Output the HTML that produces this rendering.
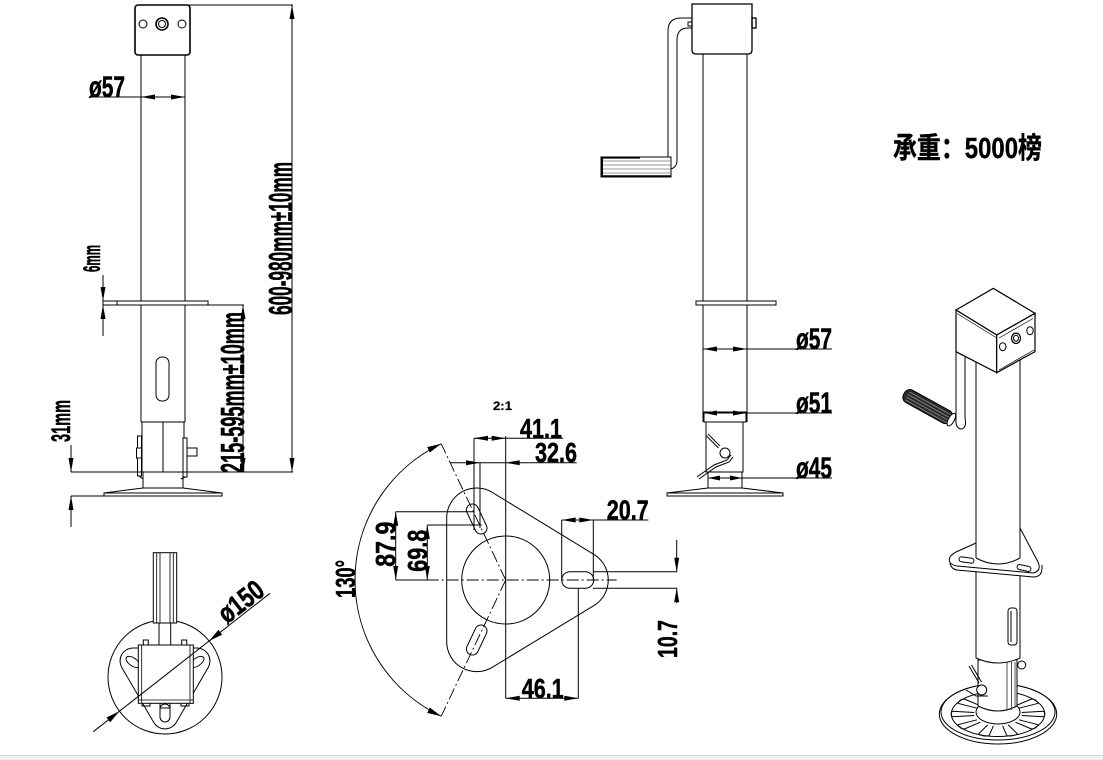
<!DOCTYPE html>
<html><head><meta charset="utf-8"><style>
html,body{margin:0;padding:0;background:#fff;}
svg{display:block;}
.t{font-family:"Liberation Sans Narrow","Liberation Sans",sans-serif;font-weight:bold;fill:#000;stroke:#000;stroke-width:0.5;}
</style></head><body>
<svg xmlns="http://www.w3.org/2000/svg" width="1103" height="760" viewBox="0 0 1103 760">
<rect width="1103" height="760" fill="#fff"/>
<rect x="0" y="756" width="1103" height="4" fill="#f0f0ee"/>
<line x1="0" y1="755.5" x2="1103" y2="755.5" stroke="#d8d8d4" stroke-width="1"/>

<g fill="none" stroke="#000" stroke-width="1">
<!-- ============ LEFT JACK ============ -->
<line x1="141" y1="55" x2="141" y2="422"/>
<line x1="185" y1="55" x2="185" y2="422"/>
<line x1="141" y1="422" x2="185" y2="422"/>
<rect x="135" y="5" width="55" height="50" rx="3" stroke-width="1.6" fill="#fff"/>
<circle cx="143" cy="24" r="4"/>
<circle cx="162" cy="24" r="6" stroke-width="1.6"/>
<circle cx="162" cy="24" r="3.5"/>
<circle cx="182" cy="24" r="4"/>
<rect x="117" y="301" width="91" height="4" fill="#fff"/>
<rect x="156" y="357" width="13" height="44" rx="6"/>
<rect x="142" y="422" width="42" height="50"/>
<line x1="163" y1="422" x2="163" y2="472"/>
<rect x="137.5" y="436" width="4" height="40" fill="#fff"/>
<rect x="136.5" y="448" width="5" height="10" fill="#fff"/>
<path d="M139,476 L143,479"/>
<rect x="183" y="438" width="4" height="39" fill="#fff"/>
<rect x="187" y="448" width="10" height="8" fill="#fff"/>
<path d="M185,477 L181,479"/>
<path d="M143,472 V488 M183,472 V488 M143,488 H183 M143,488 L104,493 M183,488 L222,493"/>
<rect x="104" y="493" width="118" height="3"/>

<!-- left dims -->
<line x1="89" y1="97" x2="185" y2="97"/>
<line x1="188" y1="5" x2="293" y2="5"/>
<line x1="292" y1="5" x2="292" y2="472"/>
<line x1="208" y1="305" x2="244" y2="305"/>
<line x1="243" y1="305" x2="243" y2="472"/>
<line x1="71" y1="472" x2="293" y2="472"/>
<line x1="71" y1="445" x2="71" y2="472"/>
<line x1="71" y1="496" x2="71" y2="527"/>
<line x1="71" y1="496" x2="104" y2="496"/>
<line x1="103" y1="275" x2="103" y2="336"/>
<line x1="103" y1="301" x2="117" y2="301"/>
<line x1="103" y1="305" x2="117" y2="305"/>
</g>
<g fill="#000" stroke="none">
<polygon points="141,97 155,94.5 155,99.5"/>
<polygon points="185,97 171,94.5 171,99.5"/>
<polygon points="292,5 289.5,19 294.5,19"/>
<polygon points="292,472 289.5,458 294.5,458"/>
<polygon points="243,305 240.5,319 245.5,319"/>
<polygon points="243,472 240.5,458 245.5,458"/>
<polygon points="103,301 100.5,287 105.5,287"/>
<polygon points="103,305 100.5,319 105.5,319"/>
<polygon points="71,472 68.5,458 73.5,458"/>
<polygon points="71,496 68.5,510 73.5,510"/>
</g>
<text class="t" x="89" y="97" font-size="30" textLength="36" lengthAdjust="spacingAndGlyphs">ø57</text>
<text class="t" transform="translate(100,272) rotate(-90)" font-size="24" textLength="27" lengthAdjust="spacingAndGlyphs">6mm</text>
<text class="t" transform="translate(70,442) rotate(-90)" font-size="27" textLength="42" lengthAdjust="spacingAndGlyphs">31mm</text>
<text class="t" transform="translate(244,473) rotate(-90)" font-size="33" textLength="161" lengthAdjust="spacingAndGlyphs">215-595mm±10mm</text>
<text class="t" transform="translate(292,315) rotate(-90)" font-size="33" textLength="153" lengthAdjust="spacingAndGlyphs">600-980mm±10mm</text>

<!-- ============ BOTTOM-LEFT TOP VIEW ============ -->
<g fill="none" stroke="#000" stroke-width="1">
<circle cx="165" cy="677" r="57"/>
<path d="M133,648 L197,648 A13,13 0 0 1 208.2,667.5 L176.2,722.5 A13,13 0 0 1 153.8,722.5 L121.8,667.5 A13,13 0 0 1 133,648 Z" fill="#fff"/>
<ellipse cx="133" cy="662" rx="8" ry="4" transform="rotate(35 133 662)"/>
<ellipse cx="197" cy="662" rx="8" ry="4" transform="rotate(-35 197 662)"/>
<rect x="160" y="704" width="10" height="18" rx="5"/>
<rect x="153.3" y="552.7" width="23.4" height="70.3" fill="#fff"/>
<path d="M156.7,553 V623 M160,553 V623 M170,553 V623 M173.3,553 V623" stroke-width="0.8"/>
<path d="M159,623 V645 M170.7,623 V645"/>
<rect x="143.3" y="640" width="5" height="5" fill="#fff"/>
<rect x="181.7" y="640" width="5" height="5" fill="#fff"/>
<rect x="138.3" y="645" width="55" height="58.3" fill="#fff"/>
<path d="M141.7,645 V703 M190,645 V703 M138.3,700 H193.3" stroke-width="0.8"/>
<path d="M142,703 V706 H150 V703 M160,703 V708 H170 V703 M181,703 V706 H189 V703"/>
<line x1="93.3" y1="731.7" x2="270" y2="593.3"/>
</g>
<g fill="#000" stroke="none">
<polygon points="119.4,711.2 110.2,722.2 106.5,717.5"/>
<polygon points="209.2,640.9 222.1,634.7 218.4,629.9"/>
</g>
<text class="t" transform="translate(227,624.5) rotate(-38)" font-size="28" textLength="50" lengthAdjust="spacingAndGlyphs">ø150</text>

<!-- ============ MIDDLE TRIANGLE PLATE ============ -->
<g fill="none" stroke="#000" stroke-width="1">
<path d="M446.7,518 A30,30 0 0 1 492.3,492.4 L593.9,554.4 A30,30 0 0 1 593.9,605.6 L492.3,667.3 A30,30 0 0 1 446.7,641.7 Z"/>
<circle cx="505.7" cy="580" r="44"/>
<rect x="470.7" y="503" width="12" height="32" rx="6" transform="rotate(-25.3 476.7 519)"/>
<rect x="470.7" y="624" width="12" height="32" rx="6" transform="rotate(25.3 476.7 640)"/>
<rect x="561.7" y="571.7" width="32" height="16.6" rx="8.3"/>
<g stroke-dasharray="12,3,2,3" stroke-width="0.9">
<line x1="505.7" y1="580" x2="441.2" y2="443.8"/>
<line x1="505.7" y1="580" x2="441.2" y2="716.2"/>
<line x1="426.7" y1="580" x2="616.7" y2="580"/>
</g>
<line x1="395.7" y1="580" x2="427" y2="580"/>
<path d="M441.2,443.8 A150.7,150.7 0 0 0 441.2,716.2"/>
<!-- dims -->
<line x1="474" y1="438.3" x2="563.3" y2="438.3"/>
<line x1="474" y1="438.3" x2="474" y2="530"/>
<line x1="505.7" y1="436" x2="505.7" y2="698.3"/>
<line x1="450" y1="462.7" x2="576.7" y2="462.7"/>
<line x1="480" y1="462.7" x2="480" y2="528"/>
<line x1="395.7" y1="511.7" x2="395.7" y2="580"/>
<line x1="395.7" y1="511.7" x2="473" y2="511.7"/>
<line x1="427.3" y1="525" x2="427.3" y2="580"/>
<line x1="427.3" y1="525" x2="481.7" y2="525"/>
<line x1="561.7" y1="520" x2="648.3" y2="520"/>
<line x1="561.7" y1="520" x2="561.7" y2="580"/>
<line x1="593.3" y1="520" x2="593.3" y2="580"/>
<line x1="593" y1="571.7" x2="677" y2="571.7"/>
<line x1="593" y1="588.3" x2="677" y2="588.3"/>
<line x1="676.7" y1="540" x2="676.7" y2="571.7"/>
<line x1="676.7" y1="588.3" x2="676.7" y2="603"/>
<line x1="505.7" y1="698.3" x2="578.3" y2="698.3"/>
<line x1="578.3" y1="588" x2="578.3" y2="698.3"/>
</g>
<g fill="#000" stroke="none">
<polygon points="441.2,443.8 427.2,447.1 429.8,452.5"/>
<polygon points="441.2,716.2 427.2,712.9 429.8,707.5"/>
<polygon points="474,438.3 488,435.8 488,440.8"/>
<polygon points="505.7,438.3 491.7,435.8 491.7,440.8"/>
<polygon points="480,462.7 466,460.2 466,465.2"/>
<polygon points="505.7,462.7 519.7,460.2 519.7,465.2"/>
<polygon points="395.7,511.7 393.2,525.7 398.2,525.7"/>
<polygon points="395.7,580 393.2,566 398.2,566"/>
<polygon points="427.3,525 424.8,539 429.8,539"/>
<polygon points="427.3,580 424.8,566 429.8,566"/>
<polygon points="561.7,520 575.7,517.5 575.7,522.5"/>
<polygon points="593.3,520 579.3,517.5 579.3,522.5"/>
<polygon points="676.7,571.7 674.2,557.7 679.2,557.7"/>
<polygon points="676.7,588.3 674.2,602.3 679.2,602.3"/>
<polygon points="505.7,698.3 519.7,695.8 519.7,700.8"/>
<polygon points="578.3,698.3 564.3,695.8 564.3,700.8"/>
</g>
<text class="t" x="493" y="410" font-size="12" textLength="19" lengthAdjust="spacingAndGlyphs" style="stroke-width:0.2">2:1</text>
<text class="t" x="520" y="438" font-size="28" textLength="42" lengthAdjust="spacingAndGlyphs">41.1</text>
<text class="t" x="535" y="462" font-size="28" textLength="42" lengthAdjust="spacingAndGlyphs">32.6</text>
<text class="t" x="606.7" y="519.5" font-size="28" textLength="42" lengthAdjust="spacingAndGlyphs">20.7</text>
<text class="t" x="521.7" y="698" font-size="28" textLength="42" lengthAdjust="spacingAndGlyphs">46.1</text>
<text class="t" transform="translate(395,566.7) rotate(-90)" font-size="28" textLength="45" lengthAdjust="spacingAndGlyphs">87.9</text>
<text class="t" transform="translate(427,571.7) rotate(-90)" font-size="28" textLength="42" lengthAdjust="spacingAndGlyphs">69.8</text>
<text class="t" transform="translate(677,658) rotate(-90)" font-size="28" textLength="38" lengthAdjust="spacingAndGlyphs">10.7</text>
<text class="t" transform="translate(355,598) rotate(-90)" font-size="28" textLength="38" lengthAdjust="spacingAndGlyphs">130°</text>

<!-- ============ MIDDLE JACK (side view) ============ -->
<g fill="none" stroke="#000" stroke-width="1">
<line x1="703" y1="54" x2="703" y2="422"/>
<line x1="747" y1="54" x2="747" y2="422"/>
<path d="M692,4 H752 V50 Q752,54 748,54 H696 Q692,54 692,50 Z" stroke-width="1.3" fill="#fff"/>
<rect x="752" y="18" width="4" height="10" stroke-width="1.3"/>
<path d="M692,18 H681 Q668,18 668,31 V157"/>
<path d="M692,28 H688 Q677,28 677,40 V160 Q677,167 671,169"/>
<rect x="688" y="22" width="4" height="4"/>
<rect x="601" y="157" width="70" height="20" fill="#fff"/>
<path d="M601,161 H671 M601,165 H671 M601,169 H671 M601,173 H671" stroke="#777" stroke-width="0.7"/>
<line x1="602" y1="157" x2="602" y2="177" stroke-width="2"/>
<line x1="601" y1="176" x2="671" y2="176" stroke-width="1.6"/>
<line x1="601" y1="158" x2="640" y2="158" stroke-width="1.3"/>
<rect x="696" y="301" width="80" height="4" fill="#fff"/>
<rect x="704" y="412" width="42" height="10"/>
<rect x="706" y="422" width="37" height="50" fill="#fff"/>
<path d="M708,434 L720,446 M706.5,436 L718.5,448" stroke-width="0.9"/>
<circle cx="725" cy="453" r="5" fill="#fff"/>
<path d="M697,477 L714,465 L727,460 L731,455"/>
<path d="M699,479 L716,467 L729,462 L733,457"/>
<path d="M708,472 V488 M742,472 V488 M708,488 L667,493 M742,488 L783,493 M708,488 H742"/>
<rect x="667" y="493" width="116" height="3"/>
<line x1="703" y1="349" x2="832" y2="349"/>
<line x1="704" y1="413" x2="832" y2="413"/>
<line x1="708" y1="478" x2="832" y2="478"/>
</g>
<g fill="#000" stroke="none">
<polygon points="703,349 717,346.5 717,351.5"/>
<polygon points="747,349 733,346.5 733,351.5"/>
<polygon points="704,413 717,410.5 717,415.5"/>
<polygon points="746,413 733,410.5 733,415.5"/>
<polygon points="708,478 720,475.5 720,480.5"/>
<polygon points="742,478 730,475.5 730,480.5"/>
</g>
<text class="t" x="796" y="349" font-size="30" textLength="36" lengthAdjust="spacingAndGlyphs">ø57</text>
<text class="t" x="796" y="413" font-size="30" textLength="36" lengthAdjust="spacingAndGlyphs">ø51</text>
<text class="t" x="796" y="478" font-size="30" textLength="36" lengthAdjust="spacingAndGlyphs">ø45</text>

<!-- ============ TITLE ============ -->
<text x="893" y="158" font-size="29" font-weight="bold" font-family="'Liberation Sans','Noto Sans CJK SC',sans-serif" textLength="149" lengthAdjust="spacingAndGlyphs" fill="#000" stroke="#000" stroke-width="0.4">承重：5000榜</text>

<!-- ============ 3D JACK ============ -->
<g fill="none" stroke="#000" stroke-width="1">
<!-- foot -->
<ellipse cx="998" cy="714" rx="58.7" ry="30" fill="#fff"/>
<ellipse cx="998" cy="712" rx="57" ry="28"/>
<ellipse cx="998" cy="714" rx="46.7" ry="22.5"/>
<path d="M1021.8,712.5 L1043.7,711.3 M1021.8,715.5 L1043.7,716.7 M1043.7,711.3 Q1046,714 1043.7,716.7"/>
<path d="M1019,719.8 L1038.2,724.7 M1015.5,722.2 L1031.6,729 M1038.2,724.7 Q1036,729 1031.6,729"/>
<path d="M1008.2,724.9 L1017.5,733.9 M1002.6,725.8 L1006.8,735.6 M1017.5,733.9 Q1012,737 1006.8,735.6"/>
<path d="M993.4,725.8 L989.2,735.6 M987.8,724.9 L978.5,733.9 M989.2,735.6 Q984,737 978.5,733.9"/>
<path d="M980.5,722.2 L964.4,729 M977,719.8 L957.8,724.7 M964.4,729 Q960,729 957.8,724.7"/>
<path d="M974.2,715.5 L952.3,716.7 M974.2,712.5 L952.3,711.3 M952.3,716.7 Q950,714 952.3,711.3"/>
<path d="M977,708.2 L957.8,703.3 M980.5,705.8 L964.4,699 M957.8,703.3 Q960,699 964.4,699"/>
<path d="M1015.5,705.8 L1031.6,699 M1019,708.2 L1038.2,703.3 M1031.6,699 Q1036,699 1038.2,703.3"/>
<ellipse cx="998" cy="712" rx="22" ry="12" fill="#fff"/>
<!-- lower tube -->
<path d="M978,660 V706 Q998,716 1017,706 V660 Z" fill="#fff"/>
<path d="M1007,662 V710 M1011.5,662 V710 M1015,662 V708" stroke="#555"/>
<!-- pin -->
<path d="M969,666 L979,683 M971.5,665 L981.5,682"/>
<circle cx="981.7" cy="690" r="5" fill="#fff"/>
<path d="M966,690 L976,696 L988,696"/>
<circle cx="1021.7" cy="665" r="4" fill="#fff"/>
<!-- tube below plate -->
<path d="M976,570 V658 Q998,668 1020,658 V570" fill="#fff"/>
<rect x="1008" y="608" width="9" height="37" rx="3" fill="#fff"/>
<line x1="1011" y1="611" x2="1011" y2="642"/>
<!-- plate -->
<path d="M950,559 L950,563 Q951,569 957,570 L1033,577 Q1042,577 1042,568 L1042,565" fill="#fff"/>
<path d="M1020,528 L1038,562 Q1042,571 1033,573 L957,566 Q947,564 950,557 Q952,554 956,552 L976,543 Z" fill="#fff"/>
<rect x="959" y="557.5" width="15" height="5" rx="2.5" transform="rotate(8 966.5 560)"/>
<rect x="1017" y="565.5" width="14" height="5" rx="2.5" transform="rotate(12 1024 568)"/>
<!-- tube above plate -->
<path d="M976,355 L976,558 Q998,570 1020,558 L1020,350 Z" fill="#fff" stroke="none"/>
<line x1="976" y1="355" x2="976" y2="558"/>
<line x1="1020" y1="350" x2="1020" y2="558"/>
<path d="M976,558 Q998,570 1020,558"/>
<!-- crank shaft & handle -->
<path d="M956,350 V418 M965,350 V418"/>
<g transform="translate(906.7,395) rotate(28.9)">
<rect x="-3" y="-7" width="54" height="14" rx="6" fill="#2a2a2a"/>
<path d="M1,-4 H49 M1,-1 H49 M1,2 H49 M1,5 H49" stroke="#9a9a9a" stroke-width="0.7"/>
<ellipse cx="51" cy="0" rx="3" ry="7" fill="#fff"/>
</g>
<path d="M956,418 Q955,429 962,429 Q967,427 965,418" fill="#fff"/>
<!-- box -->
<polygon points="956,310 993.3,288.3 1035,313.3 996.7,335" fill="#fff" stroke-width="1.2"/>
<polygon points="956,310 996.7,335 996.7,372.7 956,351.7" fill="#fff" stroke-width="1.2"/>
<polygon points="996.7,335 1035,313.3 1035,351.7 996.7,372.7" fill="#fff" stroke-width="1.2"/>
<path d="M957,313.5 L996,337.5 M999,338 L1033,318.5 M999,370 L1034,350" stroke-width="0.7"/>
<ellipse cx="1002.7" cy="346.7" rx="3.2" ry="4"/>
<ellipse cx="1016" cy="338.3" rx="4.5" ry="5.2" stroke-width="1.3"/>
<ellipse cx="1016" cy="338.3" rx="2.5" ry="3"/>
<ellipse cx="1030" cy="330.7" rx="3.2" ry="4"/>
</g>
</svg>
</body></html>
